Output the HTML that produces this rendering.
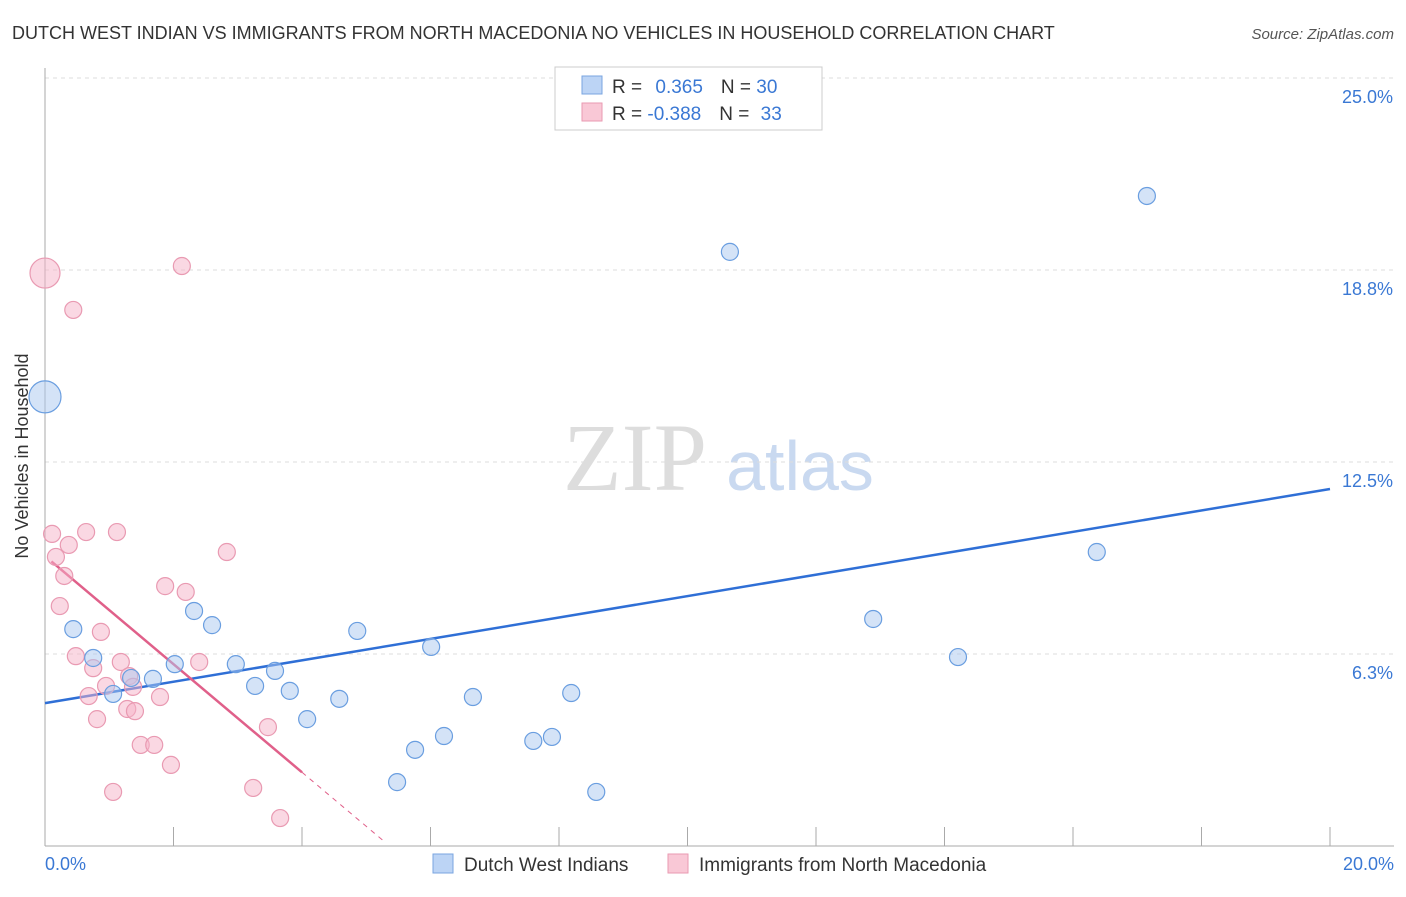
<!DOCTYPE html>
<html><head><meta charset="utf-8"><style>
body{margin:0;background:#fff;font-family:"Liberation Sans",sans-serif;}
</style></head><body>
<svg width="1406" height="892" xmlns="http://www.w3.org/2000/svg">
<text x="12" y="39" font-size="18" fill="#333">DUTCH WEST INDIAN VS IMMIGRANTS FROM NORTH MACEDONIA NO VEHICLES IN HOUSEHOLD CORRELATION CHART</text>
<text x="1394" y="39" font-size="15" fill="#555" font-style="italic" text-anchor="end">Source: ZipAtlas.com</text>
<g>
<text x="635" y="490" font-size="96" fill="#ddd" font-family="Liberation Serif,serif" text-anchor="middle">ZIP</text>
<text x="800" y="490" font-size="70" fill="#c9d9f0" text-anchor="middle">atlas</text>
</g>
<g id="grid"></g>
<line x1="45" y1="68" x2="45" y2="846" stroke="#aaa"/>
<line x1="45" y1="846" x2="1394" y2="846" stroke="#aaa"/>
<g id="xt"></g>
<text x="28" y="456" font-size="18" fill="#333" text-anchor="middle" transform="rotate(-90 28 456)">No Vehicles in Household</text>
<text x="45" y="870" font-size="18" fill="#3a78d4">0.0%</text>
<text x="1394" y="870" font-size="18" fill="#3a78d4" text-anchor="end">20.0%</text>
<g id="lines"></g>
<g id="pts"></g>
<g>
<rect x="555" y="67" width="267" height="63" fill="#fff" stroke="#ccc"/>
<rect x="582" y="76" width="20" height="18" fill="#bcd4f5" stroke="#7aa5e0"/>
<rect x="582" y="103" width="20" height="18" fill="#f9c8d6" stroke="#e99ab2"/>
<text x="612" y="93" font-size="19" fill="#333">R = <tspan fill="#3a78d4" dx="8">0.365</tspan><tspan dx="18">N = </tspan><tspan fill="#3a78d4">30</tspan></text>
<text x="612" y="120" font-size="19" fill="#333">R = <tspan fill="#3a78d4">-0.388</tspan><tspan dx="18">N = </tspan><tspan fill="#3a78d4" dx="6">33</tspan></text>
</g>
<g>
<rect x="433" y="854" width="20" height="19" fill="#bcd4f5" stroke="#7aa5e0"/>
<text x="464" y="871" font-size="19" fill="#333">Dutch West Indians</text>
<rect x="668" y="854" width="20" height="19" fill="#f9c8d6" stroke="#e99ab2"/>
<text x="699" y="871" font-size="19" fill="#333">Immigrants from North Macedonia</text>
</g>
</svg>
<script>
const yTicks=[25,18.75,12.5,6.25];
const yTickLabels=["25.0%","18.8%","12.5%","6.3%"];
const blueX=[0,0.44,0.75,1.06,1.34,1.68,2.02,2.32,2.60,2.97,3.27,3.58,3.81,4.08,4.58,4.86,5.48,5.76,6.01,6.21,6.66,7.60,7.89,8.19,8.58,10.66,12.89,14.21,16.37,17.15];
const blueY=[14.62,7.06,6.12,4.95,5.47,5.44,5.92,7.65,7.19,5.92,5.21,5.70,5.05,4.13,4.79,7.00,2.08,3.13,6.48,3.58,4.85,3.42,3.55,4.98,1.76,19.34,7.39,6.15,9.57,21.16];
const pinkX=[0,0.11,0.17,0.30,0.23,0.37,0.44,0.64,1.12,0.48,0.75,0.68,0.81,0.87,1.06,1.18,1.31,1.37,1.28,1.40,1.49,1.70,1.79,1.87,1.96,2.13,2.19,2.40,2.83,3.24,3.47,3.66,0.95];
const pinkY=[18.65,10.16,9.41,8.79,7.81,9.80,17.45,10.22,10.22,6.18,5.79,4.88,4.13,6.97,1.76,5.99,5.53,5.18,4.46,4.39,3.29,3.29,4.85,8.46,2.64,18.88,8.27,5.99,9.57,1.89,3.87,0.91,5.21];
const blueTrend=[4.65,11.62];
const pinkTrend=[9.44,-1.76];
const NS='http://www.w3.org/2000/svg';
const X=v=>45+v/20*1285, Y=v=>846-v/6.25*192;
function mk(t,a,p){const e=document.createElementNS(NS,t);for(const k in a)e.setAttribute(k,a[k]);p.appendChild(e);return e;}
const grid=document.getElementById('grid');
yTicks.forEach((t,i)=>{
 const l=mk('line',{x1:45,x2:1394,y1:Y(t),y2:Y(t),stroke:'#ddd','stroke-dasharray':'4,4'},grid);
 
 
 const tx=mk('text',{x:1393,y:Y(t)+25,'font-size':18,fill:'#3a78d4','text-anchor':'end'},grid);
 tx.textContent=yTickLabels[i];
 
 
});
const xt=document.getElementById('xt');
for(let i=1;i<=10;i++){
 const l=mk('line',{x1:X(i*2),x2:X(i*2),y1:827,y2:846,stroke:'#aaa'},xt);
 
 
}
const lines=document.getElementById('lines');
let b=mk('line',{x1:X(0),y1:Y(blueTrend[0]),x2:X(20),y2:Y(blueTrend[1]),stroke:'#2f6fd6','stroke-width':2.5},lines);


const pf=x=>pinkTrend[0]+pinkTrend[1]*x;
let p=mk('line',{x1:X(0.1),y1:Y(pf(0.1)),x2:X(4),y2:Y(pf(4)),stroke:'#e0608a','stroke-width':2.5},lines);


let pd=mk('line',{x1:X(4),y1:Y(pf(4)),x2:X(5.26),y2:Y(pf(5.26)),stroke:'#e0608a','stroke-width':1,'stroke-dasharray':'5,5'},lines);


const pts=document.getElementById('pts');
pinkX.forEach((x,i)=>{
 const c=mk('circle',{cx:X(x),cy:Y(pinkY[i]),r:i==0?15:8.5,fill:'rgba(246,178,200,0.5)',stroke:'#e99ab2','stroke-width':1.2},pts);
 
 
});
blueX.forEach((x,i)=>{
 const c=mk('circle',{cx:X(x),cy:Y(blueY[i]),r:i==0?16:8.5,fill:'rgba(170,200,240,0.5)',stroke:'#6a9ee0','stroke-width':1.2},pts);
 
 
});
</script>
</body></html>
